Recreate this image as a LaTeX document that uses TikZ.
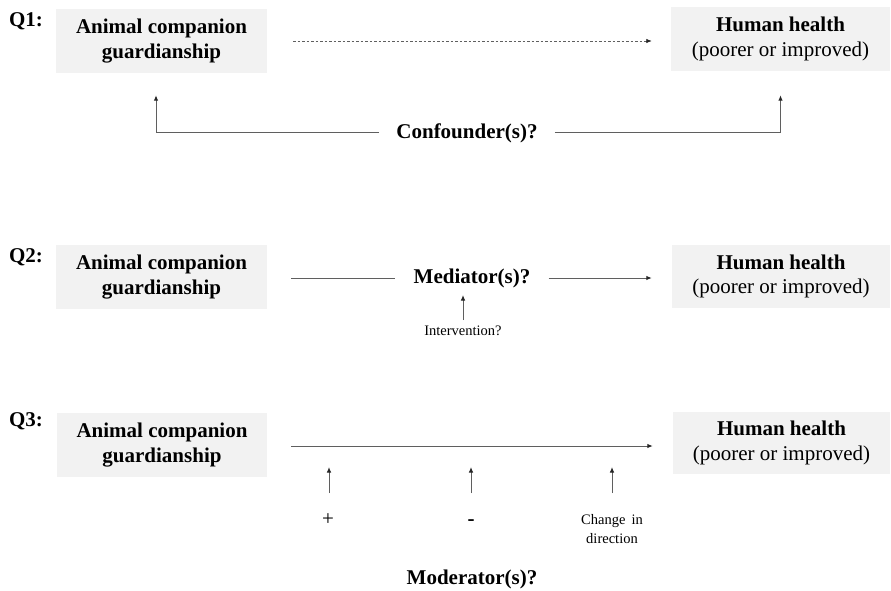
\documentclass[tikz,border=0pt]{standalone}
\usepackage{fontspec}
\setmainfont{Liberation Serif}
\usetikzlibrary{arrows.meta}
\definecolor{boxgray}{RGB}{242,242,242}
\definecolor{linegray}{RGB}{95,95,95}
\begin{document}
\begin{tikzpicture}[x=1pt,y=-1pt,
  box/.style={fill=boxgray, draw=none, minimum width=211pt, minimum height=64pt,
    inner sep=0pt, align=center, font=\fontsize{21}{24.5}\selectfont},
  qlab/.style={font=\fontsize{21}{24}\selectfont\bfseries, inner sep=0pt},
  mid/.style={font=\fontsize{21}{24}\selectfont\bfseries, inner xsep=17pt, inner ysep=2pt},
  small/.style={font=\fontsize{14.5}{19}\selectfont, align=center, inner sep=0pt},
  conn/.style={draw=linegray, line width=1pt},
  arr/.style={conn, -{Latex[length=5.5pt,width=4.5pt,color=black!85]}}
]
\useasboundingbox (0,0) rectangle (891,591);

% ---------- Q1 ----------
\node[qlab] (q1) at (26,21) {Q1:};
\node[box] (a1) at (161.5,41) {\textbf{Animal companion}\\\textbf{guardianship}};
\node[box, minimum width=219pt] (h1) at (780.5,39) {\textbf{Human health}\\(poorer or improved)};
\draw[arr, dash pattern=on 2.5pt off 2pt, line width=0.8pt, shorten <=26pt, shorten >=19pt]
  (a1.east) -- (a1.east -| h1.west);
\node[mid] (c1) at (467,133) {Confounder(s)?};
\draw[arr] (c1.west) -| ([yshift=-22pt]a1.south -| 156,0);
\draw[arr] (c1.east) -| ([yshift=-24pt]h1.south);

% ---------- Q2 ----------
\node[qlab] (q2) at (26,257) {Q2:};
\node[box] (a2) at (161.5,277) {\textbf{Animal companion}\\\textbf{guardianship}};
\node[box, minimum width=218pt, minimum height=63pt] (h2) at (781,276.5) {\textbf{Human health}\\(poorer or improved)};
\node[mid, inner xsep=18pt] (m) at (472,278) {Mediator(s)?};
\draw[conn, shorten <=24pt] (a2.east |- m) -- (m.west);
\draw[arr, shorten >=20pt] (m.east) -- (m -| h2.west);
\node[small] (iv) at (463,331) {Intervention?};
\coordinate (ivb) at (463,320);
\coordinate (ivt) at (463,295);
\draw[arr] (ivb) -- (ivt);

% ---------- Q3 ----------
\node[qlab] (q3) at (26,421) {Q3:};
\node[box, minimum width=210pt] (a3) at (162,445) {\textbf{Animal companion}\\\textbf{guardianship}};
\node[box, minimum width=217pt, minimum height=62pt] (h3) at (781.5,443) {\textbf{Human health}\\(poorer or improved)};
\coordinate (l3) at (291,446);
\draw[arr, shorten >=20pt] (l3) -- (l3 -| h3.west);

\node[font=\fontsize{21}{24}\selectfont, inner sep=0pt] (plus) at (328,520) {+};
\node[font=\fontsize{21}{24}\selectfont\bfseries, inner sep=0pt] (minus) at (471,523) {-};
\node[small] (chg) at (612,529) {Change\, in\\direction};

\coordinate (b1) at (329,493); \coordinate (t1) at (329,467);
\coordinate (b2) at (471,493); \coordinate (t2) at (471,467);
\coordinate (b3) at (612,493); \coordinate (t3) at (612,467);
\draw[arr] (b1) -- (t1);
\draw[arr] (b2) -- (t2);
\draw[arr] (b3) -- (t3);

\node[qlab] (mod) at (472,579) {Moderator(s)?};
\end{tikzpicture}
\end{document}
